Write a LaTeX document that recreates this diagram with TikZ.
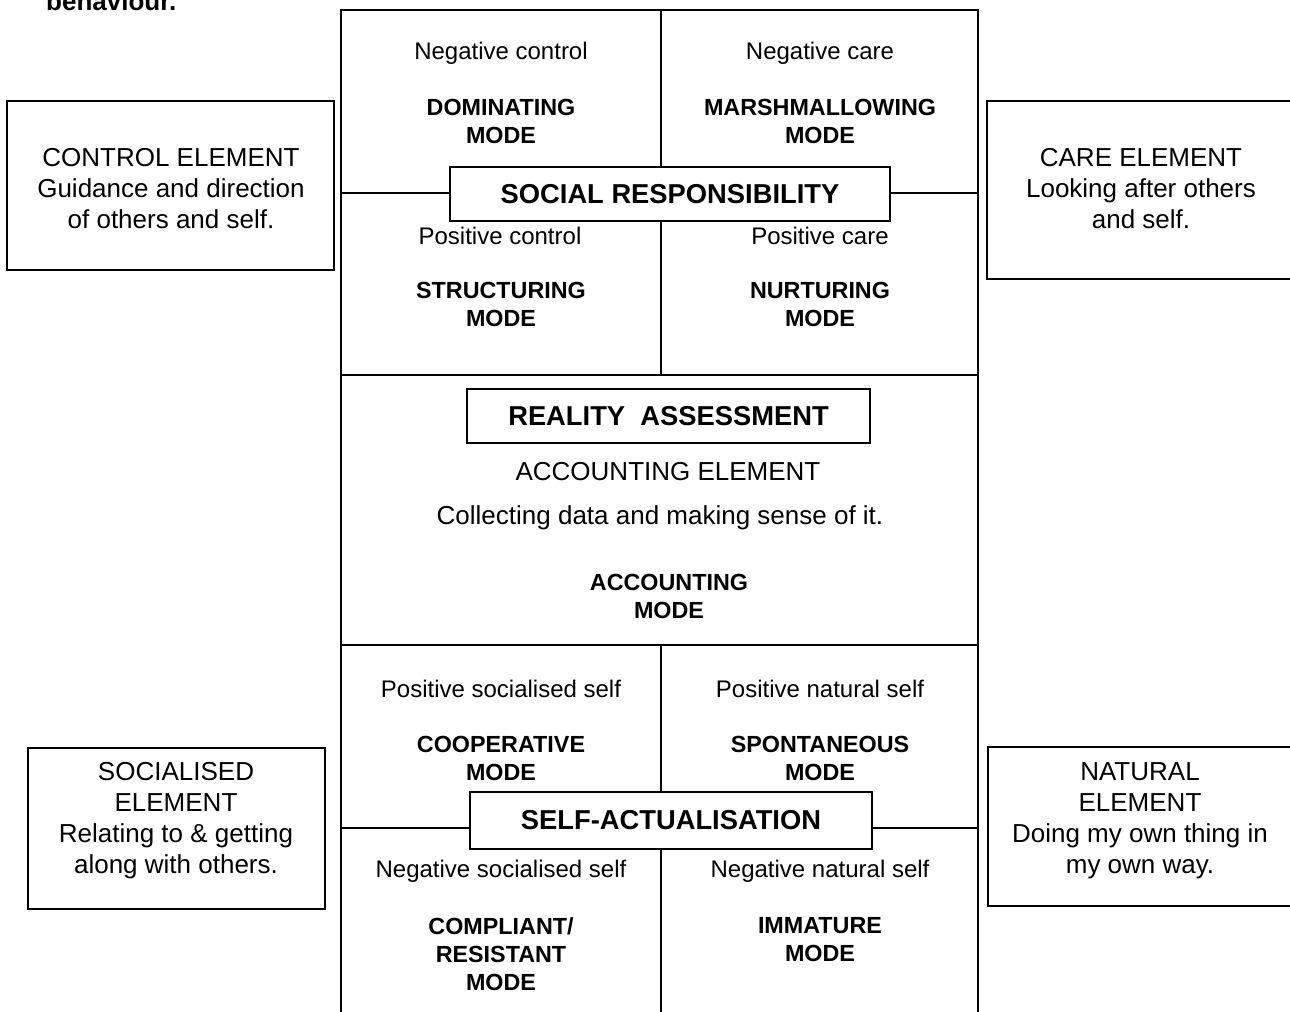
\documentclass[tikz,border=0pt]{standalone}
\usepackage{fontspec}
\setmainfont{Liberation Sans}
\begin{document}
\begin{tikzpicture}[x=0.75pt,y=-0.75pt,line width=1.8pt,
  elem/.style={align=center,inner sep=0pt,font=\fontsize{19.5}{23.25}\selectfont},
  lbl/.style={inner sep=0pt,font=\fontsize{18}{21}\selectfont},
  modetxt/.style={align=center,inner sep=0pt,font=\fontsize{17.5}{21}\selectfont\bfseries},
  titlebox/.style={draw,fill=white,inner sep=0pt,font=\fontsize{20.5}{24}\selectfont\bfseries},
  elembox/.style={draw,fill=white,inner sep=0pt}]
\useasboundingbox (0,0) rectangle (1290,1012);
\clip (0,0) rectangle (1290,1012);

% heading remnant (cut off at the top edge, as in the source)
\node[anchor=base west,inner sep=0pt,font=\fontsize{19.5}{23}\selectfont\bfseries] (head) at (45,11) {behaviour.};

% frame coordinates
\coordinate (ftl) at (341,10);
\coordinate (ftr) at (978,10);
\coordinate (fbl) at (341,1030);
\coordinate (fbr) at (978,1030);
\coordinate (h1l) at (341,375);
\coordinate (h1r) at (978,375);
\coordinate (h2l) at (341,645);
\coordinate (h2r) at (978,645);
\coordinate (mt) at (661,10);
\coordinate (m1) at (661,375);
\coordinate (m2) at (661,645);
\coordinate (mb) at (661,1030);

\draw (fbl) -- (ftl) -- (ftr) -- (fbr);
\draw (h1l) -- (h1r);
\draw (h2l) -- (h2r);
\draw (mt) -- (m1);
\draw (m2) -- (mb);

% connector anchors on the frame
\coordinate (srl) at (341,193);
\coordinate (srr) at (978,193);
\coordinate (sal) at (341,828);
\coordinate (sar) at (978,828);

% centre boxes
\node[titlebox,minimum width=330pt,minimum height=40.5pt] (sr) at (670,194) {SOCIAL RESPONSIBILITY};
\node[titlebox,minimum width=302.25pt,minimum height=40.5pt] (ra) at (668.5,416) {REALITY\ \ ASSESSMENT};
\node[titlebox,minimum width=301.5pt,minimum height=42.75pt] (sa) at (671,820.5) {SELF-ACTUALISATION};

\draw (srl) -- (srl -| sr.west);
\draw (srr) -- (srr -| sr.east);
\draw (sal) -- (sal -| sa.west);
\draw (sar) -- (sar -| sa.east);

% side element boxes
\node[elembox,minimum width=245.25pt,minimum height=126.75pt] (ctrl) at (170.5,185.5) {};
\node[elem] (ctrlt) at (171,189) {CONTROL ELEMENT\\Guidance and direction\\of others and self.};
\node[elembox,minimum width=231.75pt,minimum height=133.5pt] (care) at (1141.5,190) {};
\node[elem] (caret) at (1141,189) {CARE ELEMENT\\Looking after others\\and self.};
\node[elembox,minimum width=222.75pt,minimum height=120.75pt] (soc) at (176.5,828.5) {};
\node[elem] (soct) at (176,821) {SOCIALISED\\ELEMENT\\Relating to \& getting\\along with others.};
\node[elembox,minimum width=231pt,minimum height=119.25pt] (nat) at (1142,826.5) {};
\node[elem] (natt) at (1140,821) {NATURAL\\ELEMENT\\Doing my own thing in\\my own way.};

% top quadrants
\node[lbl] (nctrl) at (501,53) {Negative control};
\node[modetxt] (dom) at (501,121) {DOMINATING\\MODE};
\node[lbl] (ncare) at (820,53) {Negative care};
\node[modetxt] (mar) at (820,121) {MARSHMALLOWING\\MODE};
\node[lbl] (pctrl) at (500,236) {Positive control};
\node[lbl] (pcare) at (820,236) {Positive care};
\node[modetxt] (str) at (501,304) {STRUCTURING\\MODE};
\node[modetxt] (nur) at (820,304) {NURTURING\\MODE};

% middle
\node[elem] (acel) at (668,472) {ACCOUNTING ELEMENT};
\node[elem] (coll) at (660,518) {Collecting data and making sense of it.};
\node[modetxt] (accm) at (669,596) {ACCOUNTING\\MODE};

% bottom quadrants
\node[lbl] (pss) at (501,689) {Positive socialised self};
\node[lbl] (pns) at (820,689) {Positive natural self};
\node[modetxt] (coop) at (501,758) {COOPERATIVE\\MODE};
\node[modetxt] (spon) at (820,758) {SPONTANEOUS\\MODE};
\node[lbl] (nss) at (501,871) {Negative socialised self};
\node[lbl] (nns) at (820,871) {Negative natural self};
\node[modetxt] (comp) at (501,954) {COMPLIANT/\\RESISTANT\\MODE};
\node[modetxt] (imm) at (820,940) {IMMATURE\\MODE};
\end{tikzpicture}
\end{document}
